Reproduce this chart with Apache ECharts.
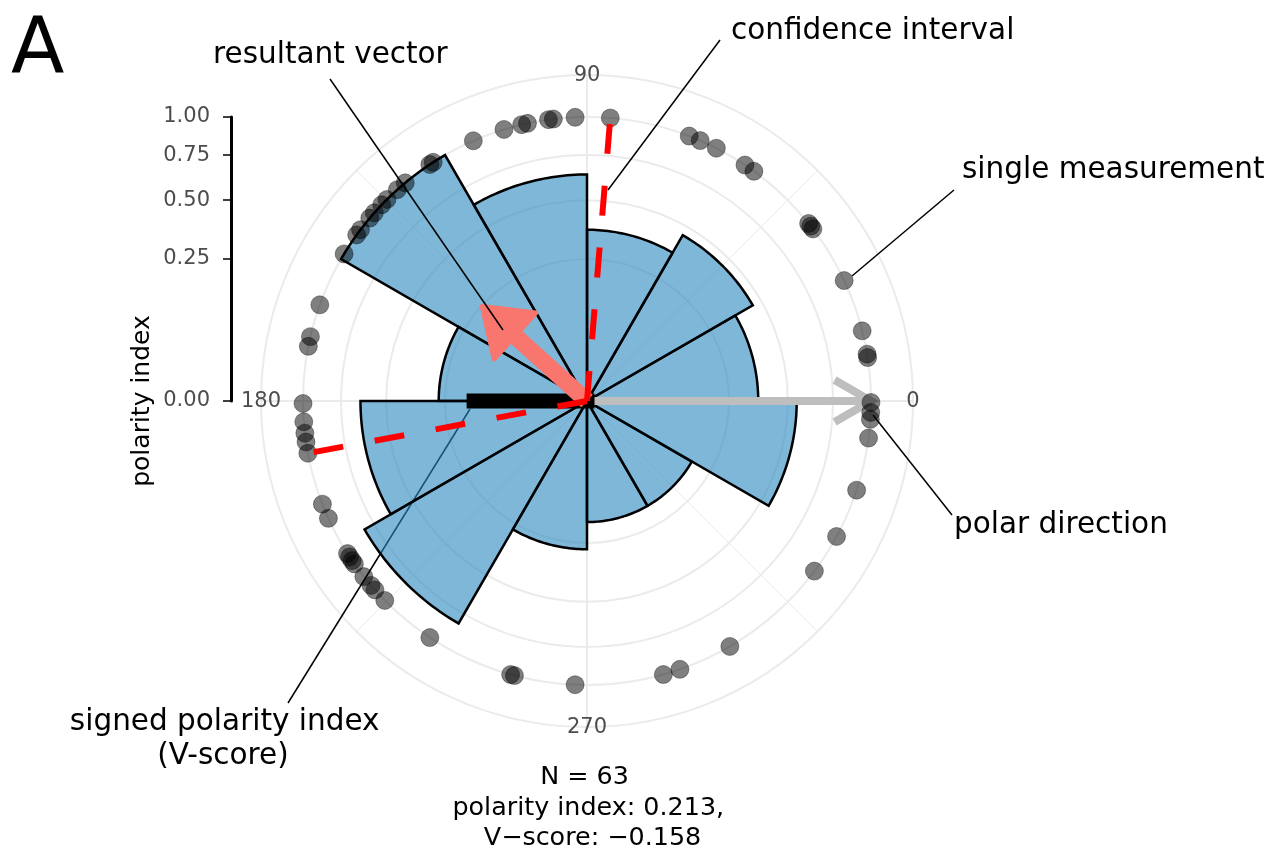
<!DOCTYPE html>
<html><head><meta charset="utf-8">
<script src="https://cdn.jsdelivr.net/npm/echarts@6/dist/echarts.min.js"></script>
<style>html,body{margin:0;padding:0;background:#fff}#c{width:1272px;height:854px}</style>
</head><body><div id="c"></div>
<script>
// ---------- data ----------
const pointAngles = [
  25.1, 14.3, 9.5, 8.8,
  56.2, 54.0, 38.7, 38.0, 37.3,
  85.3, 68.9, 66.5, 62.9,
  113.6, 107.0, 103.3, 102.1, 97.8, 96.8, 92.4,
  123.6, 122.8, 129.8, 131.9, 134.8, 136.3, 138.5, 139.9, 142.9, 144.2, 148.8,
  160.2, 166.9, 168.9,
  180.5, 184.2, 186.5, 188.3, 190.6, 201.3, 204.4,
  212.5, 213.3, 214.2, 215.0, 218.2, 220.5, 221.7, 224.6, 236.4,
  254.4, 255.2, 267.6,
  285.6, 289.1,
  300.2, 323.2,
  331.5, 341.7, 352.5, 356.3, 357.7, 359.7
];
const binEdges = [0, 30, 60, 90, 120, 150, 180, 210, 240, 270, 300, 330, 360];
const binCounts = [4, 5, 4, 7, 11, 3, 7, 9, 3, 2, 2, 6];
const radialBreaks = [0.25, 0.5, 0.75, 1];
const radialTicks = [0, 0.25, 0.5, 0.75, 1];
const angleTicks = [0, 90, 180, 270];
const angleTickLabels = ['0', '90', '180', '270'];
const polarityIndex = 0.213;
const resultantAngle = 137.9;
const vScore = -0.158;
const polarDirection = 0;
const ciAngles = [85.3, 190.6];
const nObs = 63;

// ---------- helpers ----------
const FONT = 'DejaVu Sans';
const outerRadius = 1.148;
const maxCount = Math.max(...binCounts);
const sqrtTicks = radialTicks.map(Math.sqrt);

function seg(api, rVal, aVal) {
  const c = api.coord([0, aVal]);
  const t = api.coord([rVal, aVal]);
  const L = Math.hypot(t[0] - c[0], t[1] - c[1]) || 1;
  return { c, t, ux: (t[0] - c[0]) / L, uy: (t[1] - c[1]) / L };
}
function rot(x, y, a) { return [x * Math.cos(a) - y * Math.sin(a), x * Math.sin(a) + y * Math.cos(a)]; }
function txt(text, x, y, size, align, extra) {
  return Object.assign({
    type: 'text', x: x, y: y, z: 20, silent: true,
    style: { text: text, fill: '#000', fontSize: size, fontFamily: FONT, align: align, verticalAlign: 'middle' }
  }, extra || {});
}
function lead(x1, y1, x2, y2, z) {
  return { type: 'line', z: z, silent: true, shape: { x1, y1, x2, y2 }, style: { stroke: '#000', lineWidth: 1.5 } };
}

const chart = echarts.init(document.getElementById('c'), null, { renderer: 'canvas', width: 1272, height: 854 });

const barData = binCounts.map((c, i) => [Math.sqrt(c / maxCount), binEdges[i], binEdges[i + 1]]);

const option = {
  animation: false,
  backgroundColor: '#fff',
  polar: { center: [587, 401], radius: 326 },
  angleAxis: {
    type: 'value', min: 0, max: 360, interval: 90, startAngle: 0, clockwise: false,
    axisLine: { show: true, lineStyle: { color: '#EBEBEB', width: 2 } },
    axisTick: { show: false },
    axisLabel: { show: false },
    splitLine: { show: true, lineStyle: { color: '#EBEBEB', width: 2 } },
    minorTick: { show: false, splitNumber: 2 },
    minorSplitLine: { show: true, lineStyle: { color: '#EBEBEB', width: 1 } }
  },
  radiusAxis: {
    type: 'value', min: 0, max: outerRadius,
    axisLine: { show: false }, axisTick: { show: false }, axisLabel: { show: false }, splitLine: { show: false }
  },
  grid: { left: 231, top: 117, height: 284, width: 100, outerBoundsMode: 'none' },
  xAxis: { type: 'value', show: false, min: 0, max: 1 },
  yAxis: {
    type: 'value', min: 0, max: 1, position: 'left',
    axisLine: { show: true, onZero: false, lineStyle: { color: '#000', width: 3 } },
    axisTick: { show: true, length: 8, customValues: sqrtTicks, lineStyle: { color: '#000', width: 1.5 } },
    axisLabel: {
      show: true, customValues: sqrtTicks, margin: 21, color: '#4D4D4D', fontSize: 21, fontFamily: FONT,
      formatter: v => (v * v).toFixed(2)
    },
    splitLine: { show: false }
  },
  series: [
    { // radial grid circles
      type: 'custom', coordinateSystem: 'polar', z: 1, silent: true,
      data: radialBreaks.map(b => [Math.sqrt(b), 0]),
      renderItem: (p, api) => {
        const s = seg(api, api.value(0), 0);
        const r = Math.hypot(s.t[0] - s.c[0], s.t[1] - s.c[1]);
        return { type: 'circle', shape: { cx: s.c[0], cy: s.c[1], r: r }, style: { fill: 'none', stroke: '#EBEBEB', lineWidth: 2 } };
      }
    },
    { // angle labels
      type: 'custom', coordinateSystem: 'polar', z: 2, silent: true,
      data: angleTicks.map((a, i) => [outerRadius, a, i]),
      renderItem: (p, api) => {
        const pt = api.coord([api.value(0), api.value(1)]);
        return { type: 'text', x: pt[0], y: pt[1] + 1, style: { text: angleTickLabels[api.value(2)], fill: '#4D4D4D', fontSize: 21, fontFamily: FONT, align: 'center', verticalAlign: 'middle' } };
      }
    },
    { // rose bars
      type: 'custom', coordinateSystem: 'polar', z: 3, silent: true,
      data: barData,
      renderItem: (p, api) => {
        const r = api.value(0), a0 = api.value(1), a1 = api.value(2);
        const pts = [api.coord([0, a0])];
        for (let a = a0; a <= a1 + 1e-9; a += 1) pts.push(api.coord([r, a]));
        return { type: 'polygon', shape: { points: pts }, style: { fill: 'rgba(40,135,190,0.6)', stroke: '#000', lineWidth: 2.5, lineJoin: 'miter' } };
      }
    },
    { // polar direction arrow
      type: 'custom', coordinateSystem: 'polar', z: 4, silent: true,
      data: [[1, polarDirection]],
      renderItem: (p, api) => {
        const s = seg(api, api.value(0), api.value(1));
        const h = 42, ha = Math.PI / 6;
        const a1 = rot(-s.ux, -s.uy, ha), a2 = rot(-s.ux, -s.uy, -ha);
        return { type: 'group', children: [
          { type: 'line', shape: { x1: s.c[0], y1: s.c[1], x2: s.t[0], y2: s.t[1] }, style: { stroke: '#BEBEBE', lineWidth: 8 } },
          { type: 'polyline', shape: { points: [[s.t[0] + h * a1[0], s.t[1] + h * a1[1]], s.t, [s.t[0] + h * a2[0], s.t[1] + h * a2[1]]] },
            style: { stroke: '#BEBEBE', lineWidth: 8, fill: 'none', lineJoin: 'miter' } }
        ] };
      }
    },
    { // single measurements
      type: 'scatter', coordinateSystem: 'polar', z: 5, silent: true,
      data: pointAngles.map(a => [1, a]),
      symbol: 'circle', symbolSize: 18,
      itemStyle: { color: 'rgba(0,0,0,0.5)', borderColor: 'rgba(0,0,0,0.35)', borderWidth: 1, opacity: 1 }
    },
    { // V-score bar
      type: 'custom', coordinateSystem: 'polar', z: 6, silent: true,
      data: [[Math.sqrt(Math.abs(vScore)), vScore < 0 ? polarDirection + 180 : polarDirection]],
      renderItem: (p, api) => {
        const s = seg(api, api.value(0), api.value(1));
        return { type: 'line', shape: { x1: s.c[0], y1: s.c[1], x2: s.t[0], y2: s.t[1] }, style: { stroke: '#000', lineWidth: 15, lineCap: 'square' } };
      }
    },
    { // resultant vector
      type: 'custom', coordinateSystem: 'polar', z: 7, silent: true,
      data: [[Math.sqrt(polarityIndex), resultantAngle]],
      renderItem: (p, api) => {
        const s = seg(api, api.value(0), api.value(1));
        const nx = -s.uy, ny = s.ux;
        const ax = s.t[0] + 10 * s.ux, ay = s.t[1] + 10 * s.uy;
        const bx = ax - 44 * s.ux, by = ay - 44 * s.uy;
        const W = 31;
        return { type: 'group', children: [
          { type: 'line', shape: { x1: s.c[0], y1: s.c[1], x2: bx + 2 * s.ux, y2: by + 2 * s.uy }, style: { stroke: '#F8766D', lineWidth: 17, lineCap: 'butt' } },
          { type: 'polygon', shape: { points: [[ax, ay], [bx + W * nx, by + W * ny], [bx - W * nx, by - W * ny]] },
            style: { fill: '#F8766D', stroke: '#F8766D', lineWidth: 5, lineJoin: 'round' } }
        ] };
      }
    },
    { // confidence interval
      type: 'custom', coordinateSystem: 'polar', z: 8, silent: true,
      data: ciAngles.map(a => [1, a]),
      renderItem: (p, api) => {
        const s = seg(api, api.value(0), api.value(1));
        return { type: 'line', shape: { x1: s.c[0], y1: s.c[1], x2: s.t[0], y2: s.t[1] }, style: { stroke: '#FF0000', lineWidth: 6, lineDash: [30, 32], lineCap: 'butt' } };
      }
    }
  ],
  graphic: { elements: [
    txt('A', 11, 53, 78, 'left'),
    txt('resultant vector', 213, 55, 29.5, 'left'),
    txt('confidence interval', 731, 31, 29.5, 'left'),
    txt('single measurement', 962, 170, 29.5, 'left'),
    txt('polar direction', 954, 525, 29.5, 'left'),
    txt('signed polarity index', 224.7, 722.5, 29.5, 'center'),
    txt('(V-score)', 223, 756, 29.5, 'center'),
    txt('N = ' + nObs, 584.5, 777.5, 25.4, 'center'),
    txt('polarity index: ' + polarityIndex.toFixed(3) + ',', 588.3, 808.5, 25.4, 'center'),
    txt('V\u2212score: ' + (vScore < 0 ? '\u2212' : '') + Math.abs(vScore).toFixed(3), 592.5, 838.5, 25.4, 'center'),
    txt('polarity index', 142, 401, 25, 'center', { rotation: Math.PI / 2 }),
    lead(330, 79, 503, 330, 20),
    lead(720, 40, 608, 190, 20),
    lead(954, 190, 852, 276, 20),
    lead(952, 515, 873, 415, 20),
    lead(288, 703, 470, 409, 2)
  ] }
};
chart.setOption(option);
</script>
</body></html>
